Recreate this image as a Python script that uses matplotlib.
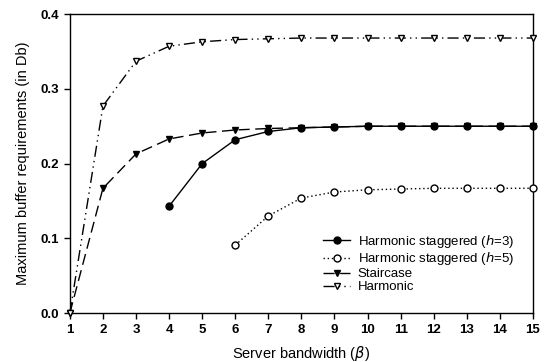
import matplotlib
matplotlib.use("Agg")
import matplotlib.pyplot as plt

plt.rcParams['font.family'] = ['Liberation Sans', 'DejaVu Sans']

x_h3 = [4, 5, 6, 7, 8, 9, 10, 11, 12, 13, 14, 15]
y_h3 = [0.143, 0.200, 0.232, 0.243, 0.248, 0.249, 0.250, 0.250, 0.250, 0.250, 0.250, 0.250]
x_h5 = [6, 7, 8, 9, 10, 11, 12, 13, 14, 15]
y_h5 = [0.091, 0.130, 0.154, 0.162, 0.165, 0.166, 0.167, 0.167, 0.167, 0.167]
x_all = [1, 2, 3, 4, 5, 6, 7, 8, 9, 10, 11, 12, 13, 14, 15]
y_stair = [0.0, 0.167, 0.213, 0.233, 0.241, 0.245, 0.247, 0.248, 0.249, 0.250, 0.250, 0.250, 0.250, 0.250, 0.250]
y_harm = [0.0, 0.277, 0.337, 0.357, 0.363, 0.366, 0.367, 0.368, 0.368, 0.368, 0.368, 0.368, 0.368, 0.368, 0.368]
labels = ['Harmonic staggered ($h$=3)', 'Harmonic staggered ($h$=5)', 'Staircase', 'Harmonic']
x_ticks = x_all
y_ticks = [0.0, 0.1, 0.2, 0.3, 0.4]

fig = plt.figure(figsize=(5.5, 3.62), dpi=100)
ax = fig.add_axes([0.127, 0.135, 0.842, 0.826])

ax.plot(x_h3, y_h3, color='black', lw=1.0, ls='-', marker='o', ms=5, mfc='black', label=labels[0], clip_on=False, zorder=4)
ax.plot(x_h5, y_h5, color='black', lw=1.0, ls=(0, (1, 2)), marker='o', ms=5, mfc='white', label=labels[1], clip_on=False, zorder=4)
ax.plot(x_all, y_stair, color='black', lw=1.0, ls=(0, (8, 4)), marker='v', ms=5, mfc='black', label=labels[2], clip_on=False, zorder=3)
ax.plot(x_all, y_harm, color='black', lw=1.0, ls=(0, (8, 3, 1, 3, 1, 3)), marker='v', ms=5, mfc='white', label=labels[3], clip_on=False, zorder=3)

ax.set_xlim(1, 15)
ax.set_ylim(0, 0.4)
ax.set_xticks(x_ticks)
ax.set_yticks(y_ticks)
ax.set_yticklabels([f"{v:.1f}" for v in y_ticks])
ax.tick_params(direction='out', length=4, width=1, labelsize=9.5)
for lab in ax.get_xticklabels() + ax.get_yticklabels():
    lab.set_fontweight('bold')
for s in ax.spines.values():
    s.set_linewidth(1.0)

ax.set_xlabel('Server bandwidth ($\\beta$)', fontsize=10.5, labelpad=6)
ax.set_ylabel('Maximum buffer requirements (in Db)', fontsize=10.5, labelpad=8)

ax.legend(loc='lower right', bbox_to_anchor=(0.985, 0.027), frameon=False, fontsize=9.5,
          handlelength=2.0, handletextpad=0.6, labelspacing=0.05)

fig.savefig('out.png', dpi=100)
